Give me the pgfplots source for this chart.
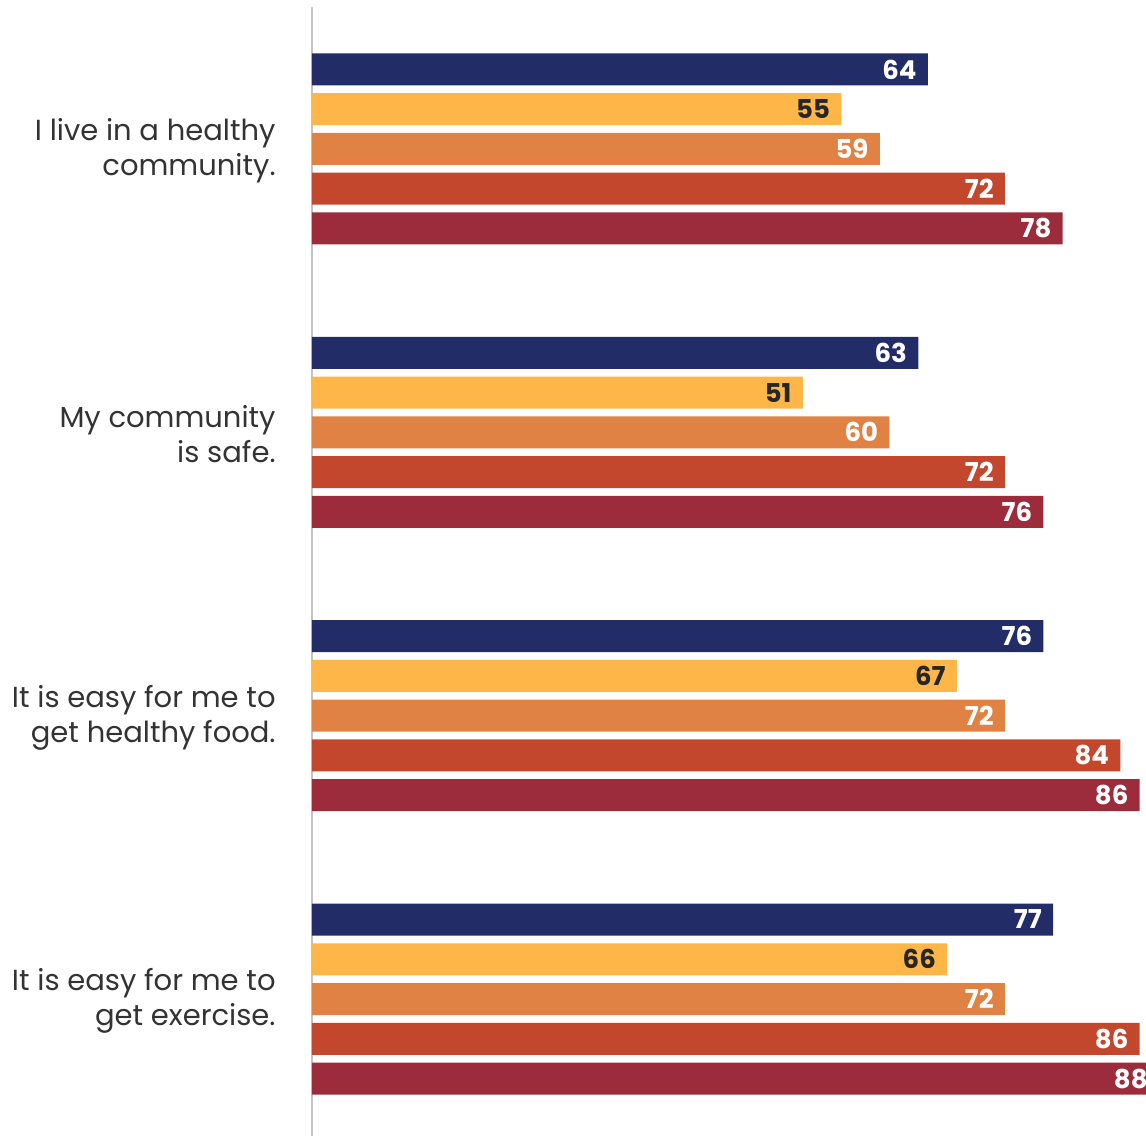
\documentclass[border=0pt]{standalone}
\usepackage{fontspec}
\setmainfont{Poppins}
\usepackage{pgfplots}
\pgfplotsset{compat=1.18}
\definecolor{cnavy}{HTML}{222D68}
\definecolor{cyellow}{HTML}{FDB647}
\definecolor{corange}{HTML}{DF8243}
\definecolor{cred}{HTML}{C3472C}
\definecolor{cdark}{HTML}{9C2B3B}
\definecolor{txt}{HTML}{333333}
\definecolor{axgray}{HTML}{C4C4C8}
\begin{document}
\begin{tikzpicture}
\begin{axis}[
  name=ax,
  scale only axis,
  width=417pt, height=564.5pt,
  xmin=0, xmax=86.65,
  ymin=-0.501, ymax=3.4835,
  y dir=reverse,
  clip=false,
  axis x line=none,
  axis y line*=left,
  y axis line style={draw=axgray, line width=1.3pt},
  xbar, bar width=16pt,
  ytick={0,1,2,3},
  yticklabels={{I live in a healthy\\community.},{My community\\is safe.},{It is easy for me to\\get healthy food.},{It is easy for me to\\get exercise.}},
  ytick style={draw=none},
  major tick length=0pt,
  yticklabel style={anchor=east, inner sep=0pt, xshift=-18pt, yshift=-1pt, align=right, text=txt, font=\fontsize{14.5}{17.5}\selectfont},
  nodes near coords,
  /pgf/number format/assume math mode=true,
  nodes near coords style={anchor=east, xshift=-5.5pt, inner sep=0pt, font=\fontsize{13}{15}\selectfont\bfseries, text=white},
  every axis plot/.append style={draw=none},
]
\addplot[fill=cnavy, bar shift=39.75pt] coordinates {(64,0) (63,1) (76,2) (77,3)};
\addplot[fill=cyellow, bar shift=19.875pt, every node near coord/.append style={text=black!85}] coordinates {(55,0) (51,1) (67,2) (66,3)};
\addplot[fill=corange, bar shift=0pt] coordinates {(59,0) (60,1) (72,2) (72,3)};
\addplot[fill=cred, bar shift=-19.875pt] coordinates {(72,0) (72,1) (84,2) (86,3)};
\addplot[fill=cdark, bar shift=-39.75pt] coordinates {(78,0) (76,1) (86,2) (88,3)};
\coordinate (bl) at (axis cs:0,3.4835);
\coordinate (tr) at (axis cs:86.65,-0.501);
\end{axis}
\pgfresetboundingbox
\path[use as bounding box] ([xshift=-156pt]bl) rectangle ([yshift=3.5pt]tr);
\end{tikzpicture}
\end{document}
